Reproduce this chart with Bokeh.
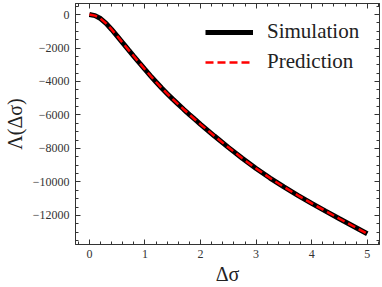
from bokeh.plotting import figure
from bokeh.models import LinearAxis, Range1d, CustomJSTickFormatter, Legend, LegendItem, FixedTicker
from bokeh.embed import file_html
from bokeh.resources import INLINE

# Data
delta_sigma = [0.0, 0.1, 0.2, 0.3, 0.4, 0.5, 0.6, 0.7, 0.8, 0.9, 1.0, 1.1, 1.2, 1.3, 1.4,
               1.5, 1.6, 1.7, 1.8, 1.9, 2.0, 2.25, 2.5, 2.75, 3.0, 3.25, 3.5, 3.75, 4.0,
               4.25, 4.5, 4.75, 5.0]
simulation = [0, -65, -240, -530, -890, -1285, -1690, -2095, -2495, -2890, -3280, -3660,
              -4030, -4390, -4730, -5055, -5370, -5675, -5975, -6270, -6560, -7260, -7935,
              -8585, -9200, -9770, -10300, -10800, -11280, -11745, -12200, -12650, -13100]
prediction = list(simulation)

x_ticks = [0, 1, 2, 3, 4, 5]
y_ticks = [0, -2000, -4000, -6000, -8000, -10000, -12000]
x_minor = [i * 0.2 for i in range(-1, 27)]
y_minor = [-500 * i for i in range(-1, 28)]

FONT = "Liberation Serif"

p = figure(width=382, height=287, output_backend="svg", toolbar_location=None,
           x_range=Range1d(-0.25, 5.22), y_range=Range1d(-13740, 660),
           min_border_left=0, min_border_right=3, min_border_top=3, min_border_bottom=0)
p.grid.visible = False
p.outline_line_color = "#333333"
p.outline_line_width = 1

fmt = CustomJSTickFormatter(code="return tick < 0 ? '\u2212' + Math.abs(tick) : '' + tick;")
blank = CustomJSTickFormatter(code="return '';")

def style(ax):
    ax.major_tick_in = 5
    ax.major_tick_out = 0
    ax.minor_tick_in = 3
    ax.minor_tick_out = 0
    ax.axis_line_color = "#333333"
    ax.major_tick_line_color = "#333333"
    ax.minor_tick_line_color = "#333333"
    ax.major_label_text_font = FONT
    ax.major_label_text_font_size = "12px"
    ax.major_label_text_color = "#333333"
    ax.axis_label_text_font = FONT
    ax.axis_label_text_font_size = "20px"
    ax.axis_label_text_font_style = "normal"
    ax.axis_label_text_color = "#222222"

p.xaxis.ticker = FixedTicker(ticks=x_ticks, minor_ticks=x_minor)
p.yaxis.ticker = FixedTicker(ticks=y_ticks, minor_ticks=y_minor)
p.yaxis.formatter = fmt
p.xaxis.axis_label = "Δσ"
p.yaxis.axis_label = "Λ(Δσ)"
style(p.xaxis[0])
style(p.yaxis[0])
p.xaxis.axis_label_standoff = 2
p.yaxis.axis_label_standoff = 4
p.xaxis.major_label_standoff = 5
p.yaxis.major_label_standoff = 6

top = LinearAxis(ticker=FixedTicker(ticks=x_ticks, minor_ticks=x_minor), formatter=blank)
style(top)
top.major_label_standoff = 0
right = LinearAxis(ticker=FixedTicker(ticks=y_ticks, minor_ticks=y_minor), formatter=blank)
style(right)
right.major_label_standoff = 0
p.add_layout(top, "above")
p.add_layout(right, "right")

r1 = p.line(delta_sigma, simulation, line_color="black", line_width=5)
r2 = p.line(delta_sigma, prediction, line_color="red", line_width=2.5, line_dash="8 4")

legend = Legend(items=[LegendItem(label="Simulation", renderers=[r1]),
                       LegendItem(label="Prediction", renderers=[r2])],
                location="top_right")
legend.label_text_font = FONT
legend.label_text_font_size = "21px"
legend.label_text_color = "#222222"
legend.glyph_width = 48
legend.glyph_height = 20
legend.label_width = 96
legend.label_standoff = 14
legend.spacing = 5
legend.border_line_color = None
legend.background_fill_alpha = 0
legend.margin = 16
legend.padding = 5
p.add_layout(legend)

open("out.html", "w").write(file_html(p, INLINE))
